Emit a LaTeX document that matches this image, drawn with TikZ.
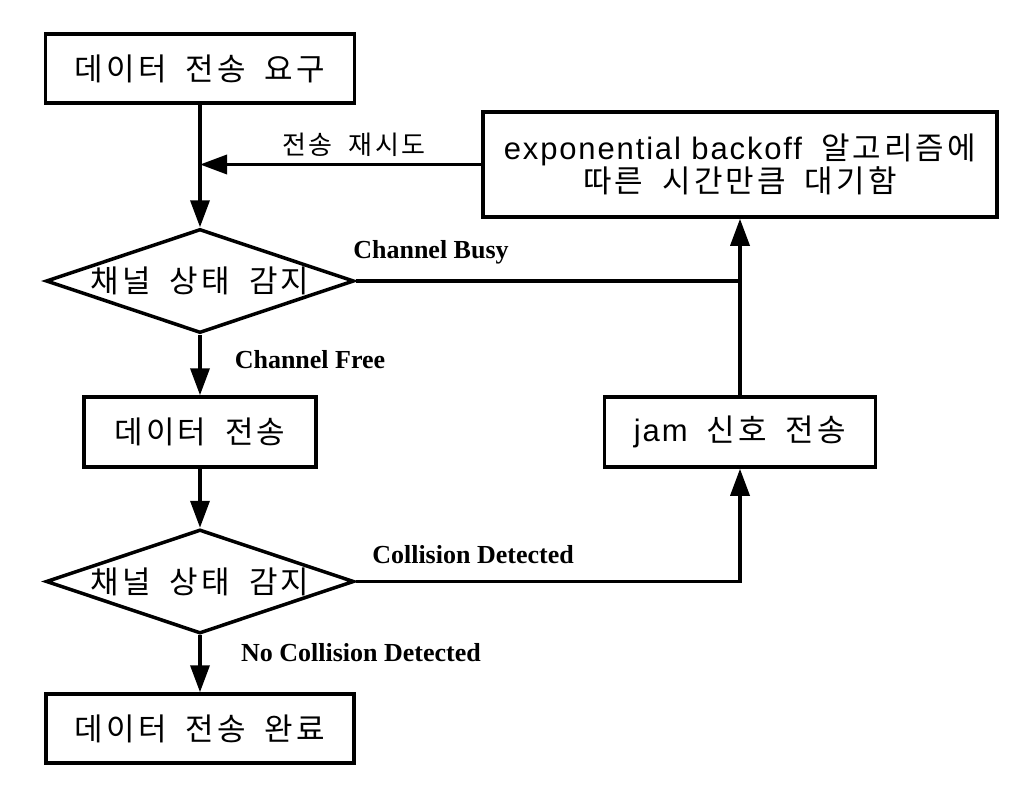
\documentclass[tikz,border=0pt]{standalone}
\usepackage{fontspec}
\setmainfont{Liberation Serif}
\newfontfamily\kr{Noto Sans CJK KR}[LetterSpace=10,WordSpace=1.9]
\newfontfamily\latn{Liberation Sans}[LetterSpace=6]
\usetikzlibrary{arrows.meta,shapes.geometric}

\tikzset{
  box/.style={draw,line width=3.5pt,minimum width=#1,minimum height=69pt,inner sep=0pt,
    font=\kr\fontsize{31}{36}\selectfont},
  cond/.style={draw,diamond,shape aspect=3,line width=3.5pt,minimum width=308pt,minimum height=104pt,
    inner sep=0pt,font=\kr\fontsize{31}{36}\selectfont},
  line/.style={line width=3.5pt},
  flow/.style={line width=3.5pt,-{Triangle[length=27pt,width=19pt]}},
  lbl/.style={inner sep=0pt,font=\bfseries\fontsize{26}{30}\selectfont},
}

\begin{document}
\begin{tikzpicture}[x=1pt,y=-1pt]
	\useasboundingbox (0,0) rectangle (1024,806);
	% left column
	\node[box=309pt] (req) at (200,68.5) {데이터 전송 요구};
	\node[cond] (sense1) at (200,281) {채널 상태 감지};
	\node[box=232pt,minimum height=70pt] (send) at (200,432) {데이터 전송};
	\node[cond] (sense2) at (200,581.5) {채널 상태 감지};
	\node[box=308pt] (done) at (200,728.5) {데이터 전송 완료};
	% right column
	\node[box=514pt,minimum height=105pt,align=center] (wait) at (740,164.5)
		{{\latn exponential backoff} 알고리즘에\\[-3pt]따른 시간만큼 대기함};
	\node[box=271pt,minimum height=70pt] (jam) at (740,432) {{\latn jam} 신호 전송};
	% labels
	\node[inner sep=0pt,font=\kr\fontsize{26}{30}\selectfont] (retry) at (354,145) {전송 재시도};
	\node[lbl] (busy) at (431,252) {Channel Busy};
	\node[lbl] (free) at (310,360) {Channel Free};
	\node[lbl] (coll) at (473,555) {Collision Detected};
	\node[lbl] (nocoll) at (361,653) {No Collision Detected};
	% connectors
	\draw[flow] (req) -- (sense1);
	\draw[flow] (sense1) -- (send);
	\draw[flow] (send) -- (sense2);
	\draw[flow] (sense2) -- (done);
	\draw[flow] (sense2.east) -| (jam.south);
	\draw[flow] (jam) -- (wait);
	\draw[line] (sense1.east) -- (sense1.east -| jam.north);
	\draw[flow] (wait.west) -- (wait.west -| req.south);
\end{tikzpicture}
\end{document}
